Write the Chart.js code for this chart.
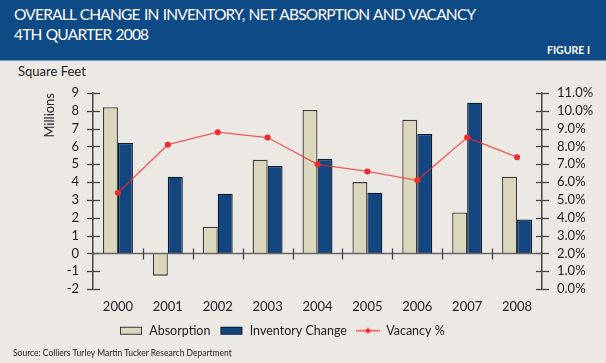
<!DOCTYPE html>
<html>
<head>
<meta charset="utf-8">
<script src="https://cdn.jsdelivr.net/npm/chart.js@4/dist/chart.umd.min.js"></script>
<style>
  html, body { margin: 0; padding: 0; }
  body { width: 606px; height: 363px; background: #ECE9E4; position: relative; overflow: hidden; font-family: Lato, sans-serif; }
  .header { position: absolute; left: 0; top: 0; width: 606px; height: 60px; background: #0E4A85; border-bottom: 1px solid #7f97b3; }
  .header h1 { margin: 0; position: absolute; left: 14px; top: 4px; color: #fff; font-weight: 400; font-size: 15.5px; line-height: 20px; letter-spacing: -0.8px; word-spacing: 1px; }
  .header .fig { position: absolute; right: 16px; top: 44px; color: #fff; font-weight: 700; font-size: 10.5px; }
  .unit { position: absolute; left: 18px; top: 63px; font-size: 13px; color: #222; }
  .source { position: absolute; left: 13px; top: 348px; font-size: 8.5px; color: #222; }
  canvas { position: absolute; left: 0; top: 60px; }
</style>
</head>
<body>
<div class="header">
  <h1>OVERALL CHANGE IN INVENTORY, NET ABSORPTION AND VACANCY<br>4TH QUARTER 2008</h1>
  <div class="fig">FIGURE I</div>
</div>
<div class="unit">Square Feet</div>
<canvas id="chart" width="606" height="303"></canvas>
<div class="source">Source: Colliers Turley Martin Tucker Research Department</div>
<script>
// data (millions of sq ft, vacancy in %)
const years = ['2000', '2001', '2002', '2003', '2004', '2005', '2006', '2007', '2008'];
const absorption = [8.2, -1.25, 1.5, 5.25, 8.05, 4.0, 7.5, 2.3, 4.3];
const inventoryChange = [6.2, 4.3, 3.35, 4.9, 5.3, 3.4, 6.7, 8.45, 1.9];
const vacancy = [5.4, 8.1, 8.8, 8.5, 7.0, 6.6, 6.1, 8.5, 7.4];

const leftTicks = ['-2', '-1', '0', '1', '2', '3', '4', '5', '6', '7', '8', '9'];
const rightTicks = ['0.0%', '1.0%', '2.0%', '3.0%', '4.0%', '5.0%', '6.0%', '7.0%', '8.0%', '9.0%', '10.0%', '11.0%'];

const absColor = '#DBD7BD';
const invColor = '#13467E';
const vacColor = '#F02A2E';
const textColor = '#222';
const axisColor = '#444';

// small images for the legend markers
function legendMark(kind) {
    const c = document.createElement('canvas');
    c.width = 24; c.height = 10;
    const g = c.getContext('2d');
    if (kind === 'line') {
        g.strokeStyle = vacColor;
        g.lineWidth = 1.2;
        g.beginPath(); g.moveTo(0, 5); g.lineTo(24, 5); g.stroke();
        g.fillStyle = vacColor;
        g.beginPath(); g.moveTo(12, 2); g.lineTo(15, 5); g.lineTo(12, 8); g.lineTo(9, 5); g.closePath(); g.fill();
    } else {
        g.fillStyle = kind === 'abs' ? absColor : invColor;
        g.fillRect(1, 1, 22, 8);
        g.strokeStyle = kind === 'abs' ? '#333' : '#0a1a30';
        g.lineWidth = 1;
        g.strokeRect(1.5, 1.5, 21, 7);
    }
    return c;
}
const marks = [legendMark('abs'), legendMark('inv'), legendMark('line')];

const axisTicks = {
    id: 'axisTicks',
    beforeInit(chart) {
        const leg = chart.legend;
        const fit = leg.fit;
        leg.fit = function () {
            fit.call(this);
            this.height = 40;
        };
    },
    afterLayout(chart) {
        chart.legend.left = 110;
    },
    afterDatasetsDraw(chart) {
        const ctx = chart.ctx;
        const x = chart.scales.x, yl = chart.scales.y, yr = chart.scales.y2;
        ctx.save();
        ctx.strokeStyle = axisColor;
        ctx.lineWidth = 1.3;
        // tick marks crossing both vertical axes
        yl.ticks.forEach(t => {
            const py = Math.round(yl.getPixelForValue(t.value)) + 0.5;
            ctx.beginPath(); ctx.moveTo(yl.right - 6, py); ctx.lineTo(yl.right + 7, py); ctx.stroke();
        });
        yr.ticks.forEach(t => {
            const py = Math.round(yr.getPixelForValue(t.value)) + 0.5;
            ctx.beginPath(); ctx.moveTo(yr.left - 6, py); ctx.lineTo(yr.left + 7, py); ctx.stroke();
        });
        // zero line with category separators
        const y0 = Math.round(yl.getPixelForValue(0)) + 0.5;
        ctx.strokeStyle = '#666';
        ctx.beginPath(); ctx.moveTo(x.left, y0); ctx.lineTo(x.right, y0); ctx.stroke();
        ctx.strokeStyle = axisColor;
        for (let i = 1; i < years.length; i++) {
            const px = Math.round((x.getPixelForValue(i - 1) + x.getPixelForValue(i)) / 2) + 0.5;
            ctx.beginPath(); ctx.moveTo(px, y0 - 5); ctx.lineTo(px, y0 + 6); ctx.stroke();
        }
        ctx.restore();
    }
};

new Chart(document.getElementById('chart'), {
    type: 'bar',
    data: {
        labels: years,
        datasets: [{
            label: 'Absorption',
            data: absorption,
            backgroundColor: absColor,
            borderColor: '#3a3a3a',
            borderWidth: 1.3,
            yAxisID: 'y',
            order: 2
        }, {
            label: 'Inventory Change',
            data: inventoryChange,
            backgroundColor: invColor,
            borderColor: '#0a1a30',
            borderWidth: 1.3,
            yAxisID: 'y',
            order: 2
        }, {
            type: 'line',
            label: 'Vacancy %',
            data: vacancy,
            borderColor: 'rgba(240,42,46,0.75)',
            backgroundColor: vacColor,
            borderWidth: 1.3,
            pointRadius: 3,
            pointStyle: 'circle',
            pointBorderWidth: 0,
            pointBackgroundColor: vacColor,
            yAxisID: 'y2',
            order: 1
        }]
    },
    options: {
        responsive: false,
        animation: false,
        categoryPercentage: 0.6,
        barPercentage: 1.0,
        layout: { padding: { top: 33, bottom: 7.5, left: 0, right: 0 } },
        plugins: {
            legend: {
                position: 'bottom',
                align: 'start',
                labels: {
                    usePointStyle: true,
                    pointStyleWidth: 24,
                    padding: 9,
                    color: textColor,
                    font: { family: 'Lato', size: 12.5 },
                    generateLabels(chart) {
                        const items = Chart.defaults.plugins.legend.labels.generateLabels(chart);
                        items.sort((a, b) => a.datasetIndex - b.datasetIndex);
                        items.forEach(it => { it.pointStyle = marks[it.datasetIndex]; });
                        return items;
                    }
                }
            },
            tooltip: { enabled: false }
        },
        scales: {
            x: {
                grid: { display: false, drawTicks: false },
                border: { display: false },
                ticks: { color: textColor, padding: 10, autoSkip: false, maxRotation: 0, font: { family: 'Lato', size: 13 } },
                afterFit(s) { s.height = 26.5; }
            },
            y: {
                position: 'left',
                min: -2, max: 9,
                grid: { display: false, drawTicks: false },
                border: { display: true, color: axisColor, width: 1.5 },
                ticks: {
                    stepSize: 1, padding: 14, color: textColor, autoSkip: false,
                    font: { family: 'Lato', size: 13 },
                    callback: (v, i) => leftTicks[i]
                },
                title: {
                    display: true, text: 'Millions', align: 'end', color: textColor,
                    font: { family: 'Lato', size: 13 }, padding: { top: 42, bottom: 0 }
                },
                afterFit(s) { s.width = 93; }
            },
            y2: {
                position: 'right',
                min: 0, max: 11,
                grid: { display: false, drawTicks: false },
                border: { display: true, color: axisColor, width: 1.5 },
                ticks: {
                    stepSize: 1, padding: 15, color: textColor, autoSkip: false,
                    font: { family: 'Lato', size: 13 },
                    callback: (v, i) => rightTicks[i]
                },
                afterFit(s) { s.width = 64; }
            }
        }
    },
    plugins: [axisTicks]
});
</script>
</body>
</html>
